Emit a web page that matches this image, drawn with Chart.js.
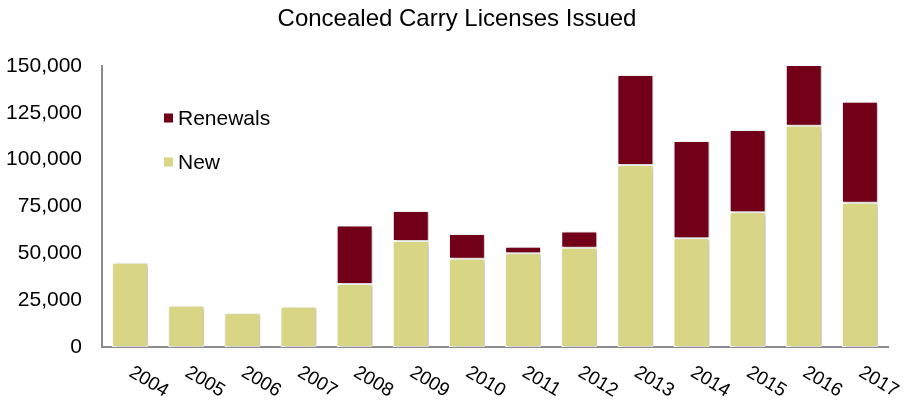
<!DOCTYPE html>
<html>
<head>
<meta charset="utf-8">
<script src="https://cdn.jsdelivr.net/npm/chart.js@4/dist/chart.umd.min.js"></script>
<style>
  html, body { margin: 0; padding: 0; background: #ffffff; }
  #wrap { width: 908px; height: 402px; }
</style>
</head>
<body>
<div id="wrap"><canvas id="c" width="908" height="402"></canvas></div>
<script>
// ---- data ----
const years = ['2004','2005','2006','2007','2008','2009','2010','2011','2012','2013','2014','2015','2016','2017'];
const newLicenses = [45000, 22000, 18000, 21500, 33600, 56600, 47100, 50000, 53000, 97200, 58000, 71900, 118100, 77000];
const renewals = [0, 0, 0, 0, 31200, 16000, 13200, 3500, 8700, 48000, 52000, 43900, 34000, 53900];
const seriesNames = ['New', 'Renewals'];
const chartTitle = 'Concealed Carry Licenses Issued';

const FONT = '"Liberation Sans", Arial, sans-serif';
const NEW_COLOR = '#D8D585';
const REN_COLOR = '#730019';

const shadowPlugin = {
  id: 'barShadow',
  beforeDatasetsDraw(chart) {
    const ctx = chart.ctx;
    ctx.save();
    ctx.shadowColor = 'rgba(0,0,0,0.28)';
    ctx.shadowBlur = 4;
    ctx.shadowOffsetX = 2;
    ctx.shadowOffsetY = 1;
  },
  afterDatasetsDraw(chart) {
    chart.ctx.restore();
  }
};

const titlePlugin = {
  id: 'ownTitle',
  afterDraw(chart) {
    const ctx = chart.ctx;
    ctx.save();
    ctx.font = '24px ' + FONT;
    ctx.fillStyle = '#000';
    ctx.textAlign = 'center';
    ctx.textBaseline = 'middle';
    ctx.fillText(chartTitle, 457, 19);
    ctx.restore();
  }
};

const xLabelPlugin = {
  id: 'xLabels',
  afterDraw(chart) {
    const ctx = chart.ctx;
    const xs = chart.scales.x;
    const top = xs.top;
    ctx.save();
    ctx.font = '19px ' + FONT;
    ctx.fillStyle = '#000';
    ctx.textAlign = 'left';
    ctx.textBaseline = 'middle';
    years.forEach((lab, i) => {
      const px = xs.getPixelForTick(i);
      ctx.save();
      ctx.translate(px + 4, top + 26);
      ctx.rotate(31 * Math.PI / 180);
      ctx.fillText(lab, -4, 0);
      ctx.restore();
    });
    ctx.restore();
  }
};

const legendPlugin = {
  id: 'innerLegend',
  afterDraw(chart) {
    const ctx = chart.ctx;
    const items = [
      { label: chart.data.datasets[1].label, color: chart.data.datasets[1].backgroundColor, y: 118 },
      { label: chart.data.datasets[0].label, color: chart.data.datasets[0].backgroundColor, y: 162 }
    ];
    ctx.save();
    ctx.font = '21px ' + FONT;
    ctx.textBaseline = 'middle';
    ctx.textAlign = 'left';
    items.forEach(it => {
      ctx.fillStyle = it.color;
      ctx.fillRect(164, it.y - 4.5, 9, 9);
      ctx.fillStyle = '#000';
      ctx.fillText(it.label, 178, it.y + 1);
    });
    ctx.restore();
  }
};

new Chart(document.getElementById('c'), {
  type: 'bar',
  data: {
    labels: years,
    datasets: [
      { label: seriesNames[0], data: newLicenses, backgroundColor: NEW_COLOR, borderColor: '#ffffff', borderWidth: 1, borderSkipped: false },
      { label: seriesNames[1], data: renewals, backgroundColor: REN_COLOR, borderColor: '#ffffff', borderWidth: 1, borderSkipped: false }
    ]
  },
  options: {
    responsive: false,
    animation: false,
    events: [],
    categoryPercentage: 0.64,
    barPercentage: 1.0,
    layout: { padding: { left: 0, right: 20, top: 66, bottom: 0 } },
    plugins: {
      legend: { display: false },
      tooltip: { enabled: false },
      title: { display: false }
    },
    scales: {
      x: {
        stacked: true,
        grid: { display: false },
        border: { display: true, color: '#8c8c8c', width: 2 },
        ticks: { display: false },
        afterFit(scale) { scale.height = 55; }
      },
      y: {
        stacked: true,
        min: 0,
        max: 150000,
        grid: { display: false, drawTicks: false },
        border: { display: true, color: '#8c8c8c', width: 2 },
        ticks: {
          stepSize: 25000,
          padding: 20,
          color: '#000',
          font: { family: FONT, size: 21 },
          callback: v => v.toLocaleString('en-US')
        },
        afterFit(scale) { scale.width = 102; }
      }
    }
  },
  plugins: [shadowPlugin, xLabelPlugin, legendPlugin, titlePlugin]
});
</script>
</body>
</html>
